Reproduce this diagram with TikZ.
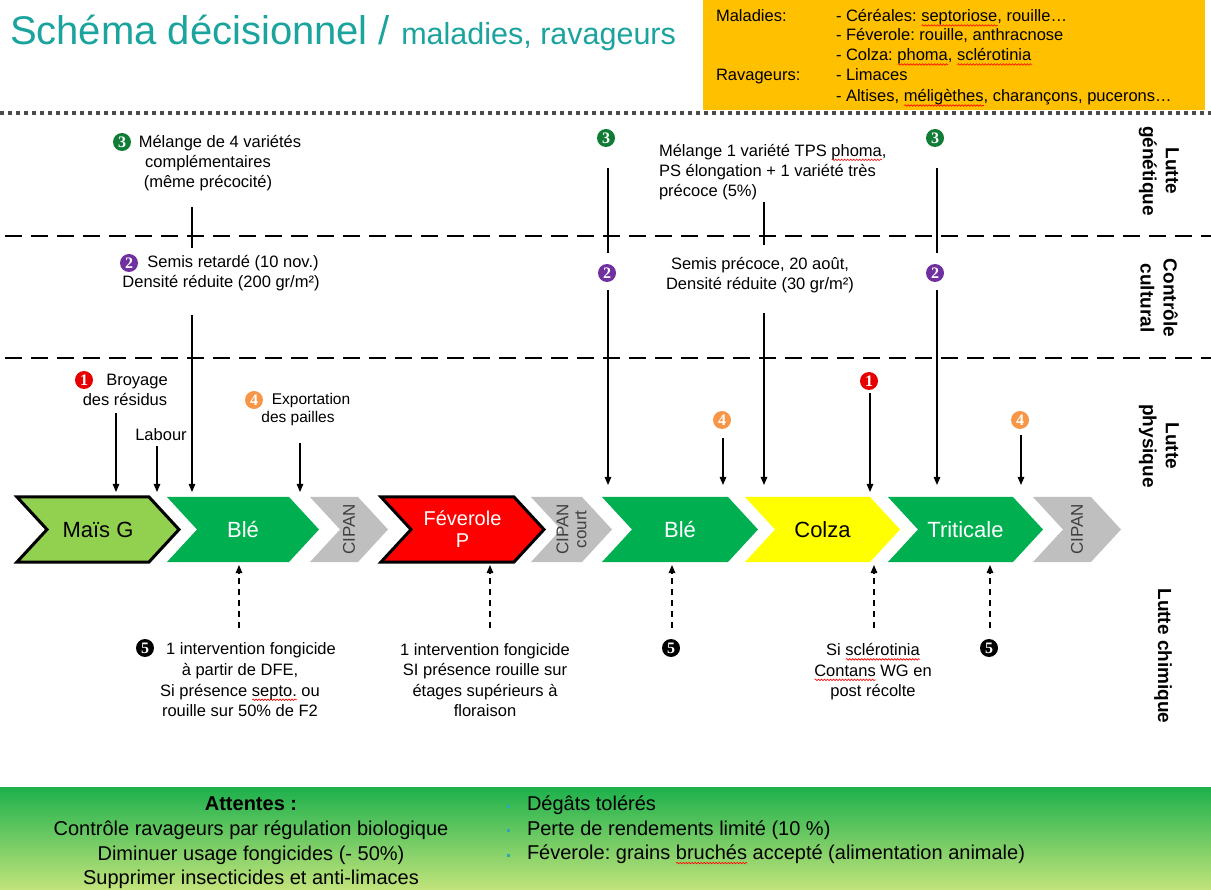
\documentclass[tikz,border=0pt]{standalone}
\usepackage{fontspec}
\setmainfont{Liberation Sans}
\newfontfamily\numfont{Liberation Serif}
\usetikzlibrary{arrows.meta,decorations.pathmorphing}
\frenchspacing
\definecolor{titleteal}{HTML}{1BA39E}
\definecolor{orangebox}{HTML}{FFC000}
\definecolor{maiscol}{HTML}{92D050}
\definecolor{vertcol}{HTML}{00B050}
\definecolor{cipancol}{HTML}{BFBFBF}
\definecolor{rougecol}{HTML}{FF0000}
\definecolor{jaunecol}{HTML}{FFFF00}
\definecolor{bviolet}{HTML}{7030A0}
\definecolor{bvert}{HTML}{107C36}
\definecolor{borange}{HTML}{F79646}
\definecolor{brouge}{HTML}{E60000}
\definecolor{bantop}{HTML}{1DB04C}
\definecolor{banmid}{HTML}{84CD55}
\definecolor{banbot}{HTML}{C2E47B}
\definecolor{bulcol}{HTML}{2CA9B0}
\newsavebox\sqbox
\newlength\sqlen
\newcommand\sq[1]{\sbox\sqbox{#1}\setlength\sqlen{\wd\sqbox}\rlap{\tikz[baseline={(0pt,3.5pt)}]\draw[red, line width=0.6pt, decorate, decoration={snake, segment length=3pt, amplitude=0.8pt}] (0pt,0pt) -- (\sqlen,0pt);}\usebox\sqbox}
\newcommand\mkchev[6]{%
  \path[#4] (#2,497) -- ({#3-30},497) -- (#3,529.5) -- ({#3-30},562) -- (#2,562) -- ({#2+30},529.5) -- cycle;
  \node[#5] (#1) at ({(#2+#3)/2},529.5) {#6};}
\begin{document}
\begin{tikzpicture}[x=1pt,y=-1pt,
  every node/.style={inner sep=0pt, outer sep=0pt},
  lab/.style={align=center, font=\fontsize{16.5}{20}\selectfont},
  leg/.style={anchor=base west, font=\fontsize{16.5}{20}\selectfont},
  side/.style={rotate=-90, align=center, font=\bfseries\fontsize{19}{23}\selectfont},
  chevtext/.style={align=center, font=\fontsize{22}{22}\selectfont},
  ciptext/.style={rotate=90, align=center, text=black!75, font=\fontsize{17}{18}\selectfont},
  badge/.style={circle, fill=#1, text=white, minimum size=18pt, font=\numfont\bfseries\fontsize{16}{16}\selectfont},
  arr/.style={line width=1.2pt, -{Triangle[length=8pt,width=6.5pt]}},
  link/.style={line width=1.2pt},
  darr/.style={line width=1.2pt, dash pattern=on 6pt off 5pt, -{Triangle[length=8pt,width=6.5pt]}},
  dotsep/.style={line width=3.5pt, black!70, dash pattern=on 3.5pt off 4.5pt},
  dashsep/.style={line width=2.8pt, dash pattern=on 17pt off 9pt},
  bsq/.style={fill=bulcol, minimum size=3pt}]
\useasboundingbox (0,0) rectangle (1211,890);
% backgrounds
\node[anchor=north west, minimum width=1211pt, minimum height=103pt, top color=bantop, middle color=banmid, bottom color=banbot] (banner) at (0,787) {};
\node[anchor=north west, fill=orangebox, minimum width=502pt, minimum height=110pt] (legend) at (703,0) {};
% title
\node[anchor=base west, text=titleteal, font=\fontsize{40}{44}\selectfont] (title) at (10,45) {Schéma décisionnel / {\fontsize{30.5}{32}\selectfont maladies, ravageurs}};
% legend
\node[leg] (lg1) at (716,22) {Maladies:};
\node[leg] (lg2) at (836,22) {- Céréales: \sq{septoriose}, rouille…};
\node[leg] (lg3) at (836,41) {- Féverole: rouille, anthracnose};
\node[leg] (lg4) at (836,61) {- Colza: \sq{phoma}, \sq{sclérotinia}};
\node[leg] (lg5) at (716,81) {Ravageurs:};
\node[leg] (lg6) at (836,81) {- Limaces};
\node[leg] (lg7) at (836,102) {- Altises, \sq{méligèthes}, charançons, pucerons…};
% separators
\draw[dotsep] (0,113) -- (1211,113);
\draw[dashsep] (5,236) -- (1211,236);
\draw[dashsep] (5,358) -- (1211,358);
% side labels
\node[side] (sgen) at (1159,171) {Lutte\\génétique};
\node[side] (scul) at (1159,298) {Contrôle\\cultural};
\node[side] (sphy) at (1159,446) {Lutte\\physique};
\node[side] (schi) at (1163,656) {Lutte chimique};
% chevrons
\mkchev{mais}{17}{179}{fill=maiscol, draw=black, line width=3pt}{chevtext}{Maïs G}
\mkchev{ble1}{167}{319}{fill=vertcol}{chevtext, text=white}{Blé}
\mkchev{cip1}{310}{388}{fill=cipancol}{ciptext}{CIPAN}
\mkchev{fev}{381}{544}{fill=rougecol, draw=black, line width=3pt}{chevtext, text=white, font=\fontsize{20}{22}\selectfont}{Féverole\\P}
\mkchev{cip2}{531}{612}{fill=cipancol}{ciptext}{CIPAN\\court}
\mkchev{ble2}{602}{758}{fill=vertcol}{chevtext, text=white}{Blé}
\mkchev{colza}{745}{900}{fill=jaunecol}{chevtext}{Colza}
\mkchev{trit}{888}{1043}{fill=vertcol}{chevtext, text=white}{Triticale}
\mkchev{cip3}{1033}{1121}{fill=cipancol}{ciptext}{CIPAN}
% badges
\node[badge=bvert] (b3a) at (122,142) {3};
\node[badge=bviolet] (b2a) at (129,263) {2};
\node[badge=brouge] (b1a) at (84,380) {1};
\node[badge=borange] (b4a) at (254,400) {4};
\node[badge=black] (b5a) at (145,648) {5};
\node[badge=bvert] (b3b) at (606,138) {3};
\node[badge=bviolet] (b2b) at (607,273) {2};
\node[badge=bvert] (b3c) at (935,138) {3};
\node[badge=bviolet] (b2c) at (935,273) {2};
\node[badge=borange] (b4b) at (722,420) {4};
\node[badge=brouge] (b1b) at (869,381) {1};
\node[badge=borange] (b4c) at (1020,420) {4};
\node[badge=black] (b5b) at (671,648) {5};
\node[badge=black] (b5c) at (989,648) {5};
% labels
\node[lab] (gen1) at (208,163) {\hspace*{24pt}Mélange de 4 variétés\\complémentaires\\(même précocité)};
\node[lab] (cul1) at (221,273) {\hspace*{24pt}Semis retardé (10 nov.)\\Densité réduite (200 gr/m²)};
\node[lab] (phy1) at (125,390) {\hspace*{24pt}Broyage\\des résidus};
\node[lab] (labour) at (161,435) {Labour};
\node[lab, font=\fontsize{15.5}{18}\selectfont] (expo) at (298,409) {\hspace*{26pt}Exportation\\des pailles};
\node[lab, anchor=west, align=left] (gen2) at (659,172) {Mélange 1 variété TPS \sq{phoma},\\PS élongation + 1 variété très\\précoce (5\%)};
\node[lab] (cul2) at (760,275) {Semis précoce, 20 août,\\Densité réduite (30 gr/m²)};
\node[lab, font=\fontsize{16.5}{20.7}\selectfont] (chem1) at (240,680) {\hspace*{22pt}1 intervention fongicide\\à partir de DFE,\\Si présence \sq{septo.} ou\\rouille sur 50\% de F2};
\node[lab, font=\fontsize{16.5}{20.3}\selectfont] (chem2) at (485,680) {1 intervention fongicide\\SI présence rouille sur\\étages supérieurs à\\floraison};
\node[lab, font=\fontsize{16.5}{20.5}\selectfont] (chem3) at (873,672) {Si \sq{sclérotinia}\\\sq{Contans} WG en\\post récolte};
% connector end points
\coordinate (g1a) at (192,207); \coordinate (g1b) at (192,248);
\coordinate (c1a) at (192,315); \coordinate (c1b) at (192,492);
\coordinate (p1a) at (116,413); \coordinate (p1b) at (116,492);
\coordinate (lba) at (157,446); \coordinate (lbb) at (157,492);
\coordinate (exa) at (300,443); \coordinate (exb) at (300,492);
\coordinate (g2a) at (608,168); \coordinate (g2b) at (608,253);
\coordinate (c2a) at (608,290); \coordinate (c2b) at (608,485);
\coordinate (g3a) at (764,202); \coordinate (g3b) at (764,245);
\coordinate (c3a) at (764,313); \coordinate (c3b) at (764,485);
\coordinate (g4a) at (937,168); \coordinate (g4b) at (937,253);
\coordinate (c4a) at (937,290); \coordinate (c4b) at (937,485);
\coordinate (p2a) at (723,438); \coordinate (p2b) at (723,485);
\coordinate (p3a) at (870,393); \coordinate (p3b) at (870,492);
\coordinate (p4a) at (1021,435); \coordinate (p4b) at (1021,485);
\coordinate (d1a) at (239,628); \coordinate (d1b) at (239,565);
\coordinate (d2a) at (490,628); \coordinate (d2b) at (490,565);
\coordinate (d3a) at (672,628); \coordinate (d3b) at (672,565);
\coordinate (d4a) at (874,628); \coordinate (d4b) at (874,565);
\coordinate (d5a) at (990,628); \coordinate (d5b) at (990,565);
% connectors
\draw[link] (g1a) -- (g1b);
\draw[arr] (c1a) -- (c1b);
\draw[arr] (p1a) -- (p1b);
\draw[arr] (lba) -- (lbb);
\draw[arr] (exa) -- (exb);
\draw[link] (g2a) -- (g2b);
\draw[arr] (c2a) -- (c2b);
\draw[link] (g3a) -- (g3b);
\draw[arr] (c3a) -- (c3b);
\draw[link] (g4a) -- (g4b);
\draw[arr] (c4a) -- (c4b);
\draw[arr] (p2a) -- (p2b);
\draw[arr] (p3a) -- (p3b);
\draw[arr] (p4a) -- (p4b);
\draw[darr] (d1a) -- (d1b);
\draw[darr] (d2a) -- (d2b);
\draw[darr] (d3a) -- (d3b);
\draw[darr] (d4a) -- (d4b);
\draw[darr] (d5a) -- (d5b);
% banner text
\node[align=center, font=\fontsize{20}{24.7}\selectfont] (att) at (251,843) {{\bfseries Attentes :}\\Contrôle ravageurs par régulation biologique\\Diminuer usage fongicides (- 50\%)\\Supprimer insecticides et anti-limaces};
\node[anchor=west, align=left, font=\fontsize{20}{24.5}\selectfont] (exp2) at (527,830) {Dégâts tolérés\\Perte de rendements limité (10 \%)\\Féverole: grains \sq{bruchés} accepté (alimentation animale)};
\node[bsq] (q1) at (508,806) {};
\node[bsq] (q2) at (508,830) {};
\node[bsq] (q3) at (508,855) {};
\end{tikzpicture}
\end{document}
